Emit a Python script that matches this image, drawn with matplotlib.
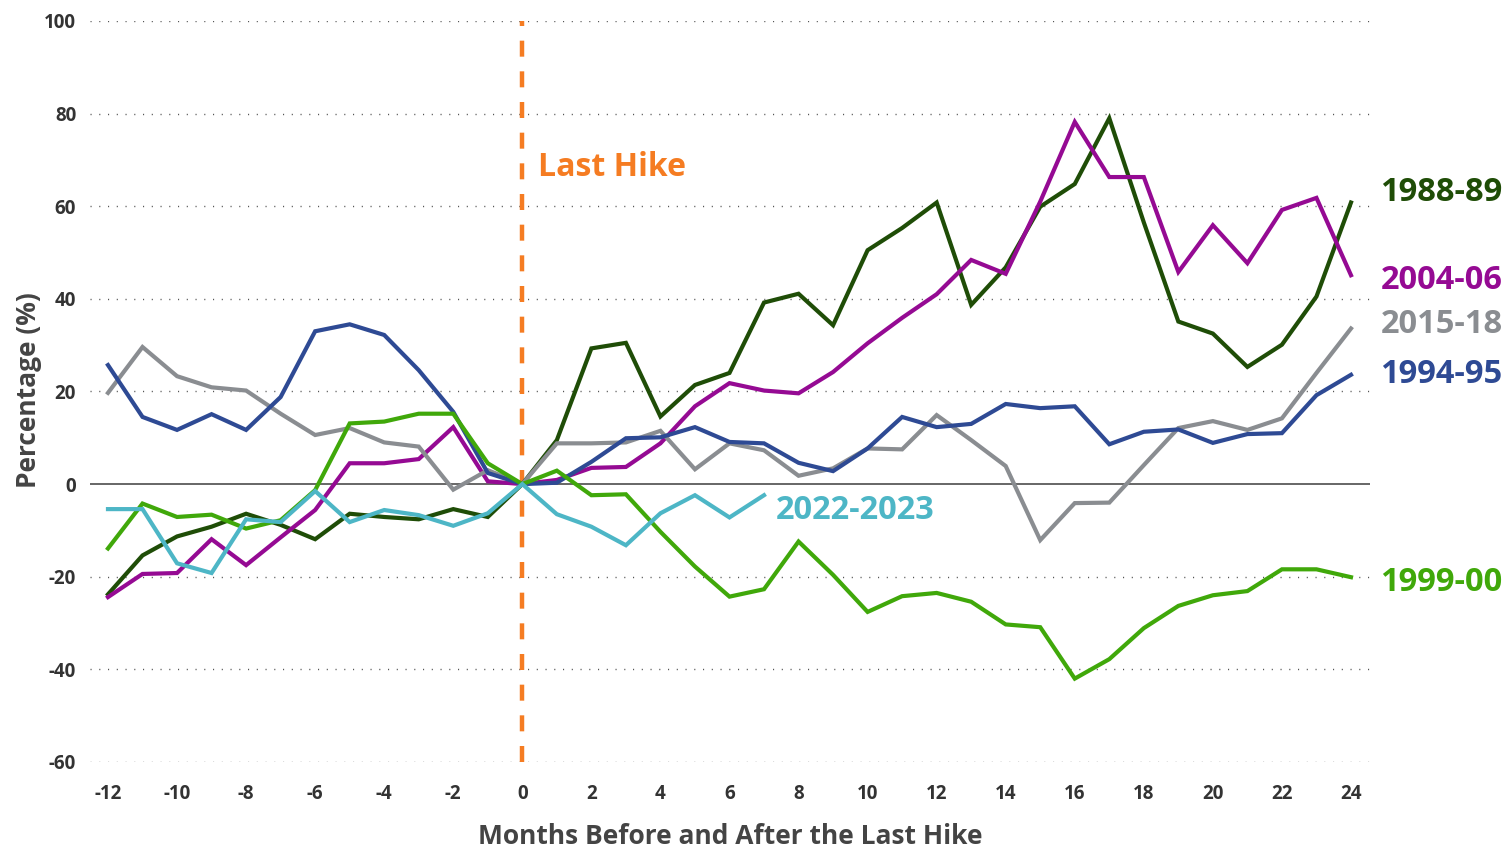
import matplotlib
matplotlib.use("Agg")
import matplotlib.pyplot as plt
import numpy as np

plt.rcParams['font.family'] = ['Open Sans', 'DejaVu Sans']
plt.rcParams['axes.unicode_minus'] = False

# months relative to the last hike
months = np.arange(-12, 25)

# percentage change
s1988 = [-23.8, -15.4, -11.3, -9.2, -6.4, -8.8, -11.9, -6.4, -7.1, -7.6, -5.4, -7.1, 0,
         9.5, 29.3, 30.5, 14.6, 21.4, 24.0, 39.2, 41.1, 34.3, 50.5, 55.3, 60.8,
         38.7, 46.8, 59.9, 64.8, 79.0, 56.5, 35.1, 32.5, 25.3, 30.1, 40.5, 60.8]
s2004 = [-24.4, -19.4, -19.2, -11.9, -17.5, -11.5, -5.6, 4.5, 4.5, 5.4, 12.3, 0.6, 0,
         0.9, 3.5, 3.7, 8.8, 16.8, 21.8, 20.2, 19.6, 24.2, 30.4, 35.9, 41.0,
         48.4, 45.4, 61.0, 78.2, 66.3, 66.3, 45.8, 55.9, 47.7, 59.2, 61.8, 45.1]
s2015 = [19.7, 29.6, 23.3, 20.9, 20.2, 15.2, 10.6, 12.1, 9.0, 8.1, -1.2, 3.0, 0,
         8.8, 8.8, 9.0, 11.5, 3.2, 8.8, 7.3, 1.8, 3.4, 7.7, 7.5, 14.9,
         9.5, 3.9, -12.1, -4.1, -4.0, 4.1, 12.1, 13.6, 11.7, 14.2, 24.0, 33.6]
s1994 = [25.7, 14.5, 11.7, 15.1, 11.7, 18.8, 33.0, 34.5, 32.2, 24.6, 15.6, 2.4, 0,
         0.3, 4.8, 9.9, 10.1, 12.3, 9.1, 8.8, 4.6, 2.8, 7.7, 14.5, 12.3,
         13.0, 17.3, 16.4, 16.8, 8.6, 11.3, 11.8, 8.9, 10.8, 11.0, 19.2, 23.6]
s1999 = [-13.9, -4.2, -7.1, -6.6, -9.6, -7.8, -1.3, 13.1, 13.5, 15.2, 15.2, 4.5, 0,
         2.9, -2.4, -2.2, -10.3, -17.8, -24.3, -22.7, -12.4, -19.6, -27.6, -24.2, -23.5,
         -25.4, -30.3, -30.9, -42.0, -37.8, -31.1, -26.3, -24.0, -23.1, -18.4, -18.4, -20.1]
s2022 = [-5.4, -5.4, -17.1, -19.2, -7.6, -8.2, -1.5, -8.2, -5.6, -6.7, -9.0, -6.3, 0,
         -6.5, -9.2, -13.2, -6.3, -2.4, -7.2, -2.4]

names = ["1988-89", "2004-06", "2015-18", "1994-95", "1999-00", "2022-2023"]
series = [s1988, s2004, s2015, s1994, s1999, s2022]
colors = ["#1f4d07", "#950a93", "#8a8d91", "#2e4a94", "#40a80a", "#4db6c6"]
# label anchors (month, value)
label_pos = [(24.85, 62.9), (24.85, 43.9), (24.85, 34.4), (24.85, 23.6), (24.85, -21.3), (7.35, -5.8)]

fig = plt.figure(figsize=(15.03, 8.49), dpi=100)
ax = fig.add_axes([0.0599, 0.1025, 0.8516, 0.8728])

for y in range(-60, 101, 20):
    if y == 0:
        ax.axhline(0, color="#666666", lw=1.4, zorder=1)
    else:
        ax.axhline(y, color="#555555", lw=1.0, dashes=(0.8, 5.5), zorder=1)

ax.axvline(0, color="#f57c22", lw=3.2, dashes=(3.6, 3.3), zorder=2)

for name, s, c, (lx, ly) in zip(names, series, colors, label_pos):
    ax.plot(months[:len(s)], s, color=c, lw=3.0, zorder=3, solid_joinstyle="miter")
    ax.text(lx, ly, name, color=c, fontsize=23.5, fontweight="bold", ha="left", va="center")

ax.text(0.45, 68.3, "Last Hike", color="#f57c22", fontsize=23, fontweight="bold", ha="left", va="center")

ax.set_xlim(-12.52, 24.55)
ax.set_ylim(-60, 100)
ax.set_xticks(range(-12, 25, 2))
ax.set_yticks(range(-60, 101, 20))
ax.tick_params(length=0, labelsize=13.5, labelcolor="#333333")
ax.tick_params(axis="x", pad=16)
ax.tick_params(axis="y", pad=10)
for lab in ax.get_xticklabels() + ax.get_yticklabels():
    lab.set_fontweight("bold")
for sp in ax.spines.values():
    sp.set_visible(False)

xl = ax.set_xlabel("Months Before and After the Last Hike", fontsize=19, fontweight="bold", color="#444444")
yl = ax.set_ylabel("Percentage (%)", fontsize=19, fontweight="bold", color="#444444")
xl.set_va("center")
yl.set_va("center")
ax.xaxis.set_label_coords(0.5, -0.1)
ax.yaxis.set_label_coords(-0.0484, 0.502)

fig.savefig("out.png", dpi=100)
